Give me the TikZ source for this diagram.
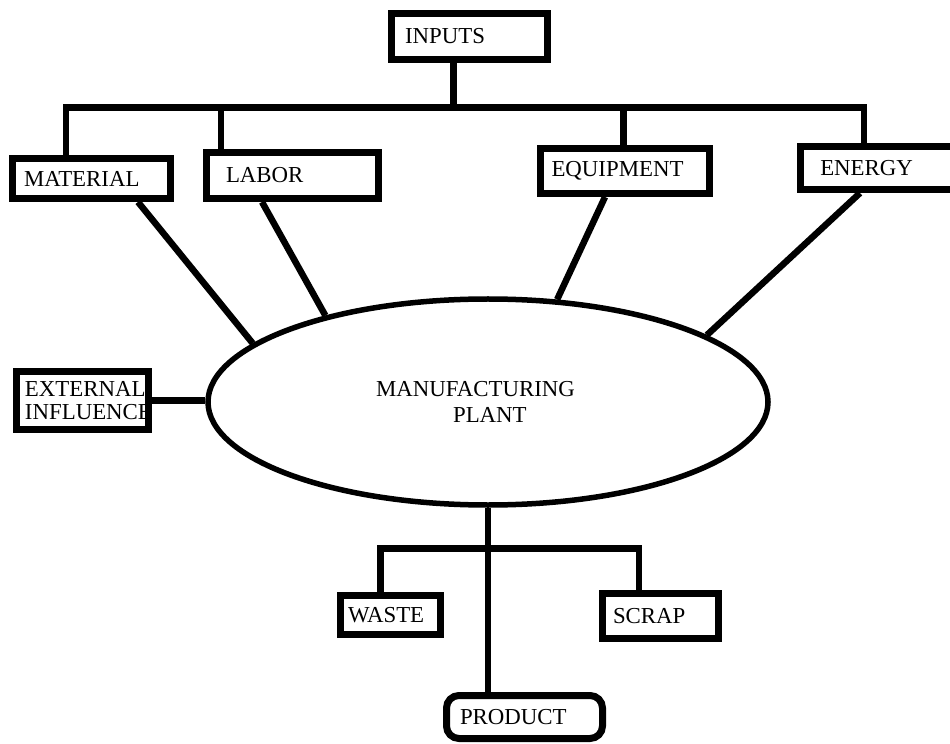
\documentclass[tikz,border=0pt]{standalone}
\usepackage{fontspec}
\setmainfont{Liberation Serif}
\usetikzlibrary{shapes}

\tikzset{
  every node/.style={font=\fontsize{13}{13}\selectfont},
  blk/.style={draw, line width=0.14cm, inner ysep=0pt, align=left},
  link/.style={line width=0.13cm}
}

\begin{document}
\begin{tikzpicture}
    \useasboundingbox (0,0) rectangle (19,14.86);
    \node[blk, minimum height=0.92cm, text width=2.58cm, inner xsep=0.27cm] (inputs) at (9.39,14.13) {INPUTS};
    \node[blk, minimum height=0.80cm, text width=2.70cm, inner xsep=0.23cm] (material) at (1.83,11.29) {MATERIAL};
    \node[blk, minimum height=0.92cm, text width=2.66cm, inner xsep=0.39cm] (labor) at (5.85,11.35) {LABOR};
    \node[blk, minimum height=0.90cm, text width=2.94cm, inner xsep=0.22cm] (equipment) at (12.50,11.44) {EQUIPMENT};
    \node[blk, minimum height=0.86cm, text width=2.91cm, inner xsep=0.39cm] (energy) at (17.86,11.50) {ENERGY};
    \node[blk, minimum height=1.16cm, text width=2.30cm, inner xsep=0.17cm] (external) at (1.65,6.85) {EXTERNAL\\\mbox{INFLUENCE}};
    \node[draw, ellipse, line width=0.11cm, minimum width=11.2cm, minimum height=4.12cm, inner sep=0pt, align=left,
          font=\fontsize{13}{14.8}\selectfont] (plant) at (9.76,6.82) {MANUFACTURING\hspace*{0.5cm}\\\hspace*{1.54cm}PLANT};
    \node[blk, minimum height=0.78cm, text width=1.70cm, inner xsep=0.15cm] (waste) at (7.81,2.56) {WASTE};
    \node[blk, minimum height=0.90cm, text width=1.90cm, inner xsep=0.21cm] (scrap) at (13.21,2.54) {SCRAP};
    \node[blk, rounded corners=0.25cm, minimum height=0.86cm, text width=2.58cm, inner xsep=0.27cm] (product) at (10.49,0.52) {PRODUCT};

    % inputs fan out
    \coordinate (bus) at (9.07,12.71);
    \draw[link] (inputs.south -| bus) -- (bus);
    \draw[link] ([xshift=-0.51cm]material.north) |- (bus) -| ([xshift=-0.58cm]energy.north);
    \draw[link] ([xshift=-1.43cm]labor.north) |- (bus);
    \draw[link] ([xshift=-0.03cm]equipment.north) |- (bus);

    % into the plant
    \draw[link] ([xshift=0.93cm]material.south) -- (plant.166);
    \draw[link] ([xshift=-0.61cm]labor.south) -- (plant.152);
    \draw[link] ([xshift=-0.40cm]equipment.south) -- (plant.56);
    \draw[link] ([xshift=-0.66cm]energy.south) -- (plant.17);
    \draw[link] (external.east) -- (external.east -| plant.west);

    % outputs
    \coordinate (fork) at (9.82,3.89);
    \draw[link] (plant.south) -- (plant.south |- product.north);
    \draw[link] ([xshift=-0.20cm]waste.north) |- (fork) -| ([xshift=-0.43cm]scrap.north);
\end{tikzpicture}
\end{document}
